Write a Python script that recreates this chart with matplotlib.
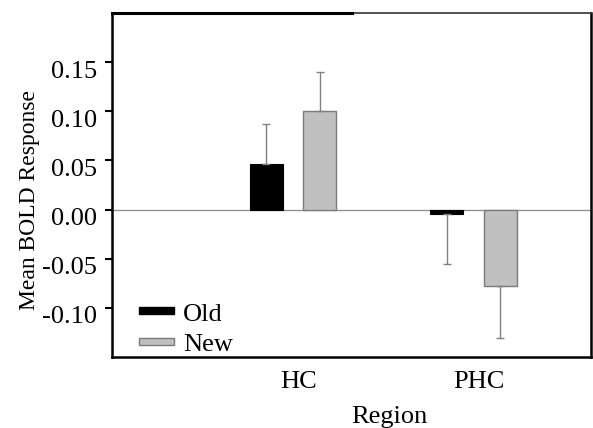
import matplotlib
matplotlib.use('Agg')
import matplotlib.pyplot as plt
import matplotlib.transforms as mtransforms
import numpy as np
from matplotlib.patches import Patch

regions = ['HC', 'PHC']
old_mean = [0.046, -0.005]
new_mean = [0.100, -0.078]
old_err = [0.041, 0.050]
new_err = [0.040, 0.053]

plt.rcParams['font.family'] = ['Liberation Serif', 'DejaVu Serif']

fig = plt.figure(figsize=(5.93, 4.28), dpi=100)
ax = fig.add_axes([0.189, 0.166, 0.8076, 0.8036])

x = np.arange(len(regions))
width = 0.183
offset = 0.148


def one_sided(means, errs):
    # error bar drawn only away from zero
    lower = [e if m < 0 else 0 for m, e in zip(means, errs)]
    upper = [e if m >= 0 else 0 for m, e in zip(means, errs)]
    return [lower, upper]


ax.axhline(0, color='#8a8a8a', lw=0.9, zorder=1)
ax.bar(x - offset, old_mean, width, color='black', edgecolor='black', lw=0.8,
       yerr=one_sided(old_mean, old_err),
       error_kw=dict(ecolor='#808080', elinewidth=1, capsize=3, capthick=1), zorder=2)
ax.bar(x + offset, new_mean, width, color='#c0c0c0', edgecolor='#7a7a7a', lw=1,
       yerr=one_sided(new_mean, new_err),
       error_kw=dict(ecolor='#808080', elinewidth=1, capsize=3, capthick=1), zorder=2)

ax.set_xlim(-1.0, 1.65)
ax.set_ylim(-0.15, 0.20)
ax.set_yticks([-0.10, -0.05, 0.00, 0.05, 0.10, 0.15])
ax.set_yticklabels(['-0.10', '-0.05', '0.00', '0.05', '0.10', '0.15'])
ax.set_xticks(x + 0.03)
ax.set_xticklabels(regions)
ax.tick_params(axis='y', labelsize=19, length=5, width=1.5, pad=6)
ax.tick_params(axis='x', labelsize=19, length=0, pad=10)

# the y tick labels sit a little below their ticks in the original
shift = mtransforms.ScaledTranslation(0, -0.07, fig.dpi_scale_trans)
for lbl in ax.get_yticklabels():
    lbl.set_transform(lbl.get_transform() + shift)

ax.set_ylabel('Mean BOLD Response', fontsize=17)
ax.yaxis.set_label_coords(-0.15, 0.455)
ax.set_xlabel('Region', fontsize=19)
ax.xaxis.set_label_coords(0.58, -0.142)

for side in ['left', 'bottom', 'right']:
    ax.spines[side].set_linewidth(1.8)
    ax.spines[side].set_color('black')
ax.spines['top'].set_linewidth(1.2)
ax.spines['top'].set_color('#333333')
ax.plot([0, 0.5], [1, 1], color='black', lw=2.2, transform=ax.transAxes,
        clip_on=False, zorder=5)

handles = [Patch(facecolor='black', edgecolor='black'),
           Patch(facecolor='#c0c0c0', edgecolor='#7a7a7a')]
ax.legend(handles, ['Old', 'New'], loc='lower left', bbox_to_anchor=(0.035, -0.028),
          frameon=False, fontsize=19, handlelength=1.3, handleheight=0.03,
          handletextpad=0.35, labelspacing=0.32, borderaxespad=0)

fig.savefig('out.png', dpi=100)
